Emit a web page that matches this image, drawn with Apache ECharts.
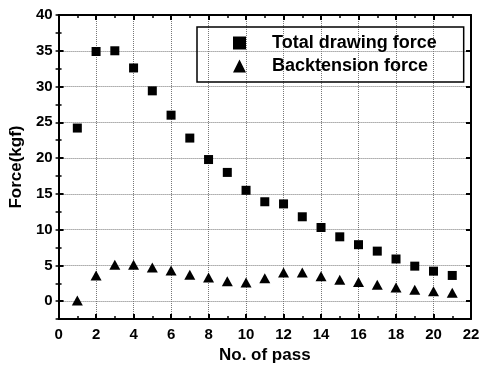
<!DOCTYPE html>
<html>
<head>
<meta charset="utf-8">
<script src="https://cdn.jsdelivr.net/npm/echarts@6/dist/echarts.min.js"></script>
<style>html,body{margin:0;padding:0;background:#fff}#c{width:489px;height:369px}</style>
</head>
<body>
<div id="c"></div>
<script>
const passes = [1,2,3,4,5,6,7,8,9,10,11,12,13,14,15,16,17,18,19,20,21];
const totalDrawingForce = [24.2,34.9,35.0,32.6,29.4,26.0,22.8,19.8,18.0,15.5,13.9,13.6,11.8,10.3,9.0,7.9,7.0,5.9,4.9,4.2,3.6];
const backtensionForce = [0.1,3.6,5.1,5.1,4.7,4.3,3.7,3.3,2.8,2.6,3.2,4.0,4.0,3.5,3.0,2.7,2.3,1.9,1.6,1.4,1.2];
const xTicks = [0,2,4,6,8,10,12,14,16,18,20,22];
const yTicks = [0,5,10,15,20,25,30,35,40];

const FONT = '"Liberation Sans", Arial, sans-serif';
const chart = echarts.init(document.getElementById('c'), null, {renderer: 'canvas'});

const axisLine = {show: true, onZero: false, lineStyle: {color: '#000', width: 2}};
const grid = {left: 58, right: 18, top: 15, bottom: 47};

function xAx(pos, labels, grid) {
  return {
    type: 'value', position: pos, min: xTicks[0], max: xTicks[xTicks.length-1], interval: 2,
    axisLine: axisLine,
    axisTick: {show: true, inside: true, length: 5, lineStyle: {color: '#000', width: 2}},
    minorTick: {show: true, splitNumber: 2, length: 3, lineStyle: {color: '#000', width: 1.5}},
    axisLabel: labels ? {show: true, color: '#000', fontFamily: FONT, fontWeight: 'bold', fontSize: 15, margin: 8} : {show: false},
    splitLine: grid ? {show: true, lineStyle: {color: '#777', type: 'dotted', width: 1}} : {show: false},
    name: labels ? 'No. of pass' : '',
    nameLocation: 'middle', nameGap: 25,
    nameTextStyle: {color: '#000', fontFamily: FONT, fontWeight: 'bold', fontSize: 17}
  };
}
function yAx(pos, labels, grid) {
  return {
    type: 'value', position: pos, min: -2.5, max: yTicks[yTicks.length-1], splitNumber: 8,
    axisLine: axisLine,
    axisTick: {show: true, inside: true, length: 5, lineStyle: {color: '#000', width: 2}},
    axisLabel: labels ? {show: true, color: '#000', fontFamily: FONT, fontWeight: 'bold', fontSize: 15, margin: 6,
      formatter: function (v) { return yTicks.indexOf(v) >= 0 ? String(v) : ''; }} : {show: false},
    splitLine: grid ? {show: true, lineStyle: {color: '#777', type: 'dotted', width: 1}} : {show: false},
    name: labels ? 'Force(kgf)' : '',
    nameLocation: 'middle', nameGap: 32, nameRotate: 90,
    nameTextStyle: {color: '#000', fontFamily: FONT, fontWeight: 'bold', fontSize: 17}
  };
}
// helper axes for minor ticks every 2.5 on y
function yMinor(pos) {
  return {
    type: 'value', position: pos, min: -2.5, max: 40, interval: 2.5,
    axisLine: {show: false},
    axisTick: {show: true, inside: true, length: 3, lineStyle: {color: '#000', width: 1.5}},
    axisLabel: {show: false}, splitLine: {show: false}
  };
}

const option = {
  backgroundColor: '#fff',
  animation: false,
  grid: grid,
  xAxis: [xAx('bottom', true, true), xAx('top', false, false)],
  yAxis: [yAx('left', true, true), yAx('right', false, false), yMinor('left'), yMinor('right')],
  legend: {
    show: true, orient: 'vertical', left: 197, top: 27,
    padding: [6, 27, 6, 36], itemGap: 3,
    itemWidth: 13, itemHeight: 13,
    borderColor: '#000', borderWidth: 1.5,
    textStyle: {color: '#000', fontFamily: FONT, fontWeight: 'bold', fontSize: 18, lineHeight: 20, padding: [0, 0, 0, 21]},
    data: [{name: 'Total drawing force', icon: 'rect'}, {name: 'Backtension force', icon: 'triangle'}]
  },
  series: [
    {name: 'Total drawing force', type: 'scatter', xAxisIndex: 0, yAxisIndex: 0,
     symbol: 'rect', symbolSize: 9, itemStyle: {color: '#000', opacity: 1},
     data: passes.map((p, i) => [p, totalDrawingForce[i]])},
    {name: 'Backtension force', type: 'scatter', xAxisIndex: 0, yAxisIndex: 0,
     symbol: 'triangle', symbolSize: [11, 10], itemStyle: {color: '#000', opacity: 1},
     data: passes.map((p, i) => [p, backtensionForce[i]])}
  ]
};
chart.setOption(option);
</script>
</body>
</html>
